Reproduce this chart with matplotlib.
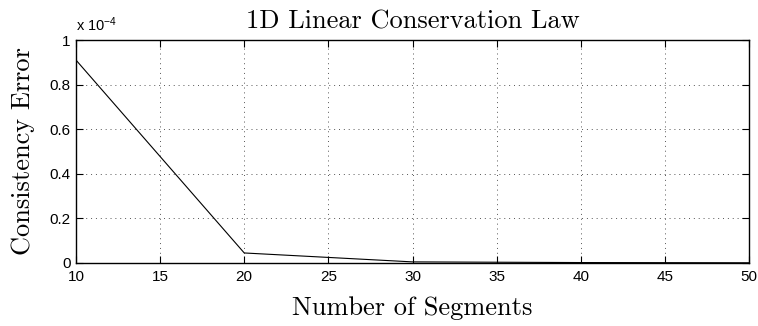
import matplotlib
matplotlib.use("Agg")
import matplotlib.pyplot as plt
from matplotlib.ticker import FuncFormatter

segments = [10, 20, 30, 40, 50]
errors = [0.91e-4, 0.045e-4, 0.005e-4, 0.002e-4, 0.001e-4]
xticks = [10, 15, 20, 25, 30, 35, 40, 45, 50]
yticks = [0, 0.2e-4, 0.4e-4, 0.6e-4, 0.8e-4, 1.0e-4]

plt.rcParams['font.family'] = ['Liberation Sans', 'DejaVu Sans']
plt.rcParams['mathtext.fontset'] = 'custom'
plt.rcParams['mathtext.rm'] = 'Liberation Sans'
plt.rcParams['mathtext.it'] = 'Liberation Sans'
plt.rcParams['mathtext.default'] = 'regular'

fig = plt.figure(figsize=(7.58, 3.26), dpi=100)
ax = fig.add_axes([76/758, 1-263/326, (749-76)/758, (263-40)/326])
ax.plot(segments, errors, color='black', linewidth=0.8)
ax.set_xlim(10, 50)
ax.set_ylim(0, 1e-4)
ax.set_xticks(xticks)
ax.set_yticks(yticks)
ax.yaxis.set_major_formatter(FuncFormatter(lambda v, p: ('%g' % round(v * 1e4, 6))))
ax.tick_params(direction='in', top=True, right=True, labelsize=11, length=5, width=0.8)
ax.tick_params(axis='x', pad=5)
ax.tick_params(axis='y', pad=4)
ax.grid(True, linestyle=(0, (1, 4)), color='#555555', linewidth=0.7)
for s in ax.spines.values():
    s.set_linewidth(1.0)
ax.text(0.0, 1.025, r'x 10$^{-4}$', transform=ax.transAxes, fontsize=10.5,
        ha='left', va='bottom')
cm = {'family': 'cmr10'}
ax.set_title('1D Linear Conservation Law', fontsize=19, fontdict=cm, pad=8.5)
ax.set_xlabel('Number of Segments', fontsize=19, fontdict=cm, labelpad=9)
ax.set_ylabel('Consistency Error', fontsize=19, fontdict=cm, labelpad=10)
fig.savefig('out.png', dpi=100)
